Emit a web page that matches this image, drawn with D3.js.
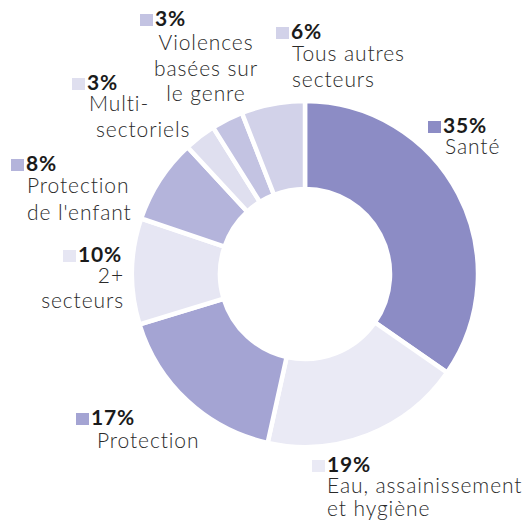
<!DOCTYPE html>
<html>
<head>
<meta charset="utf-8">
<script src="https://cdn.jsdelivr.net/npm/d3@7"></script>
<style>
  html, body { margin: 0; padding: 0; background: #fff; }
  svg { display: block; }
  .pct { font-family: Lato, "Noto Sans", sans-serif; font-weight: 700; font-size: 21px; letter-spacing: 0.8px; fill: #1b1b1b; }
  .lbl { font-family: Lato, "Noto Sans", sans-serif; font-weight: 300; font-size: 21px; letter-spacing: 0.9px; fill: #2a2a2a; }
</style>
</head>
<body>
<svg id="chart" width="526" height="522"></svg>
<script>
// Funding share by sector, clockwise from 12 o'clock
const sectors = ["Santé", "Eau, assainissement et hygiène", "Protection", "2+ secteurs",
                 "Protection de l'enfant", "Multi-sectoriels", "Violences basées sur le genre",
                 "Tous autres secteurs"];
const shares = [35, 19, 17, 10, 8, 3, 3, 6];
const percentLabels = ["35%", "19%", "17%", "10%", "8%", "3%", "3%", "6%"];
const labelLines = [
  ["Santé"],
  ["Eau, assainissement", "et hygiène"],
  ["Protection"],
  ["2+", "secteurs"],
  ["Protection", "de l'enfant"],
  ["Multi-", "sectoriels"],
  ["Violences", "basées sur", "le genre"],
  ["Tous autres", "secteurs"]
];
const colors = ["#8c8cc5", "#eaeaf5", "#a4a4d3", "#e6e6f3", "#b4b4db", "#dfdfef", "#c3c3e2", "#d2d2e9"];

// Label placement: header (square + percentage) anchor, then text lines
const labelLayout = [
  { x: 443, y: 133, lines: [{ x: 445, y: 154, a: "start" }] },
  { x: 327, y: 472, lines: [{ x: 327, y: 493, a: "start" }, { x: 327, y: 516, a: "start" }] },
  { x: 91,  y: 425, lines: [{ x: 97,  y: 448, a: "start" }] },
  { x: 78,  y: 262, lines: [{ x: 124, y: 283, a: "end" }, { x: 124, y: 308, a: "end" }] },
  { x: 26,  y: 171, lines: [{ x: 27,  y: 193, a: "start" }, { x: 27,  y: 220, a: "start" }] },
  { x: 87,  y: 90,  lines: [{ x: 89,  y: 111, a: "start" }, { x: 96,  y: 137, a: "start" }] },
  { x: 155, y: 26,  lines: [{ x: 206, y: 50, a: "middle" }, { x: 206, y: 76, a: "middle" }, { x: 206, y: 101, a: "middle" }] },
  { x: 291, y: 39,  lines: [{ x: 292, y: 61, a: "start" }, { x: 292, y: 87, a: "start" }] }
];

const svg = d3.select("#chart");
const cx = 305, cy = 274;
const outerR = 173, innerR = 85;

const pie = d3.pie().sort(null).value(d => d);
const arc = d3.arc().innerRadius(innerR).outerRadius(outerR);
const color = d3.scaleOrdinal().domain(sectors).range(colors);

const g = svg.append("g").attr("transform", `translate(${cx},${cy})`);
g.selectAll("path")
  .data(pie(shares))
  .join("path")
  .attr("d", arc)
  .attr("fill", (d, i) => color(sectors[i]))
  .attr("stroke", "#fff")
  .attr("stroke-width", 4.5)
  .attr("stroke-linejoin", "miter");

// Legend-style labels
const labels = svg.selectAll("g.label")
  .data(sectors)
  .join("g")
  .attr("class", "label");

labels.append("rect")
  .attr("x", (d, i) => labelLayout[i].x - 15)
  .attr("y", (d, i) => labelLayout[i].y - 12)
  .attr("width", 13)
  .attr("height", 12)
  .attr("fill", d => color(d));

labels.append("text")
  .attr("class", "pct")
  .attr("x", (d, i) => labelLayout[i].x)
  .attr("y", (d, i) => labelLayout[i].y)
  .text((d, i) => percentLabels[i]);

labels.each(function (d, i) {
  d3.select(this).selectAll("text.lbl")
    .data(labelLines[i])
    .join("text")
    .attr("class", "lbl")
    .attr("x", (t, j) => labelLayout[i].lines[j].x)
    .attr("y", (t, j) => labelLayout[i].lines[j].y)
    .attr("text-anchor", (t, j) => labelLayout[i].lines[j].a)
    .text(t => t);
});
</script>
</body>
</html>
